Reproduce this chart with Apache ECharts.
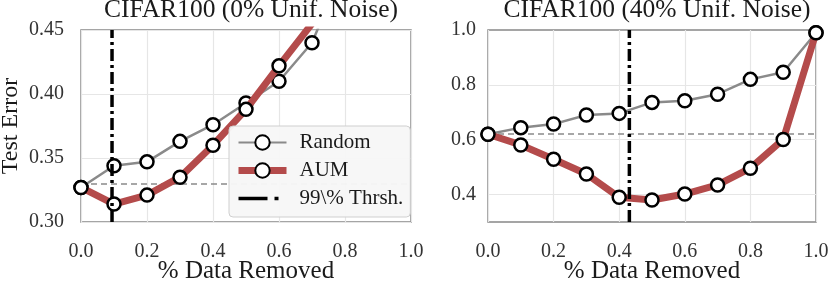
<!DOCTYPE html>
<html><head><meta charset="utf-8">
<script src="https://cdn.jsdelivr.net/npm/echarts@6/dist/echarts.min.js"></script>
<style>html,body{margin:0;padding:0;background:#fff}#c{width:830px;height:282px}</style>
</head><body><div id="c"></div>
<script>
const xVals = [0.0, 0.1, 0.2, 0.3, 0.4, 0.5, 0.6, 0.7, 0.8, 0.9, 1.0];
const titles = ['CIFAR100 (0% Unif. Noise)', 'CIFAR100 (40% Unif. Noise)'];
const seriesNames = ['Random', 'AUM', '99\\% Thrsh.'];
// Left: 0% noise
const leftRandom = [0.327, 0.344, 0.347, 0.363, 0.376, 0.393, 0.410, 0.440, 0.502];
const leftAUM = [0.327, 0.314, 0.321, 0.335, 0.360, 0.388, 0.422, 0.455];
const leftBaseline = 0.327;
const leftThresh = 0.094;
const leftYTicks = [0.30, 0.35, 0.40, 0.45];
// Right: 40% noise
const rightRandom = [0.620, 0.644, 0.657, 0.690, 0.696, 0.736, 0.742, 0.766, 0.820, 0.846, 0.990];
const rightAUM = [0.620, 0.581, 0.529, 0.475, 0.390, 0.380, 0.402, 0.435, 0.496, 0.601, 0.990];
const rightBaseline = 0.622;
const rightThresh = 0.431;
const rightYTicks = [0.4, 0.6, 0.8, 1.0];
const xTicks = [0.0, 0.2, 0.4, 0.6, 0.8, 1.0];

const FONT = '"Liberation Serif", "DejaVu Serif", serif';
const TXT = '#1a1a1a';
const GRAY = '#8a8a8a';
const RED = '#b44b4b';
const GRIDC = '#e6e6e6';

function pairs(ys) { return ys.map((y, i) => [xVals[i], y]); }

const chart = echarts.init(document.getElementById('c'), null, {renderer: 'canvas'});

function xAxis(gi) {
  return {
    gridIndex: gi, type: 'value', min: 0, max: 1, interval: 0.2,
    name: '% Data Removed', nameLocation: 'middle', nameGap: 37, nameMoveOverlap: false,
    nameTextStyle: {fontFamily: FONT, fontSize: 25, color: TXT},
    axisLine: {show: false}, axisTick: {show: false},
    axisLabel: {fontFamily: FONT, fontSize: 20, color: '#333', margin: 20,
      formatter: v => v.toFixed(1)},
    splitLine: {show: true, lineStyle: {color: GRIDC, width: 1.2}}
  };
}

const symbolStyle = {color: '#fff', borderColor: '#000', borderWidth: 2.5};

function dataSeries(name, gi, ys, color, width, z) {
  return {
    name: name, type: 'line', xAxisIndex: gi, yAxisIndex: gi,
    data: pairs(ys), symbol: 'circle', symbolSize: 13, showAllSymbol: true,
    lineStyle: {color: color, width: width}, itemStyle: symbolStyle,
    emphasis: {disabled: true}, clip: true, z: z
  };
}

function threshSeries(gi, x, ymin, ymax) {
  return {
    name: seriesNames[2], type: 'line', xAxisIndex: gi, yAxisIndex: gi,
    data: [[x, ymin], [x, ymax]], symbol: 'none',
    lineStyle: {color: '#000', width: 3.5, type: [12, 4, 3, 4]},
    itemStyle: {color: '#000'},
    emphasis: {disabled: true}, z: 5
  };
}

function refSeries(gi, baseline, gridYs) {
  const lines = [{yAxis: baseline, lineStyle: {color: GRAY, width: 1.5, type: [6, 4]}}];
  gridYs.forEach(v => lines.push({yAxis: v, lineStyle: {color: GRIDC, width: 1.2, type: 'solid'}}));
  return {
    type: 'line', xAxisIndex: gi, yAxisIndex: gi, data: [], silent: true, z: 1,
    markLine: {silent: true, symbol: ['none', 'none'], label: {show: false}, z: 1,
      animation: false, data: lines}
  };
}

const option = {
  animation: false,
  backgroundColor: '#fff',
  title: [
    {text: titles[0], left: 246, top: -8, textAlign: 'center',
      textStyle: {fontFamily: FONT, fontSize: 25.5, fontWeight: 'normal', color: TXT}},
    {text: titles[1], left: 652, top: -8, textAlign: 'center',
      textStyle: {fontFamily: FONT, fontSize: 25.5, fontWeight: 'normal', color: TXT}}
  ],
  grid: [
    {left: 81, top: 30, width: 330, height: 192, show: true, borderColor: '#888', borderWidth: 1.5,
      backgroundColor: '#fff', z: 0, containLabel: false, outerBoundsMode: 'none'},
    {left: 488, top: 30, width: 328, height: 192, show: true, borderColor: '#888', borderWidth: 1.5,
      backgroundColor: '#fff', z: 0, containLabel: false, outerBoundsMode: 'none'}
  ],
  xAxis: [xAxis(0), xAxis(1)],
  yAxis: [
    {gridIndex: 0, type: 'value', min: 0.30, max: 0.45, interval: 0.05,
      name: 'Test Error', nameLocation: 'middle', nameGap: 58, nameMoveOverlap: false,
      nameTextStyle: {fontFamily: FONT, fontSize: 24, color: TXT},
      axisLine: {show: false}, axisTick: {show: false},
      axisLabel: {fontFamily: FONT, fontSize: 20, color: '#333', margin: 17,
        formatter: v => v.toFixed(2)},
      splitLine: {show: true, lineStyle: {color: GRIDC, width: 1.2}}},
    {gridIndex: 1, type: 'value', min: 0.3, max: 1.0, interval: 0.1,
      axisLine: {show: false}, axisTick: {show: false},
      axisLabel: {fontFamily: FONT, fontSize: 20, color: '#333', margin: 12,
        formatter: v => {
          const hit = rightYTicks.find(t => Math.abs(t - v) < 1e-6);
          return hit === undefined ? '' : hit.toFixed(1);
        }},
      splitLine: {show: false}}
  ],
  legend: {
    data: [
      {name: seriesNames[0]},
      {name: seriesNames[1], lineStyle: {width: 7}},
      {name: seriesNames[2], itemStyle: {opacity: 0}, lineStyle: {width: 3.5, type: [29, 7, 4, 30]}}
    ],
    orient: 'vertical', left: 229, top: 126,
    itemWidth: 48, itemHeight: 18, itemGap: 7,
    padding: [6, 7, 8, 6],
    backgroundColor: 'rgba(247,247,247,0.96)', borderColor: '#cfcfcf', borderWidth: 1, borderRadius: 4,
    textStyle: {fontFamily: FONT, fontSize: 21, color: TXT, padding: [0, 0, 0, 8]},
    selectedMode: false, z: 20
  },
  series: [
    refSeries(0, leftBaseline, []),
    refSeries(1, rightBaseline, rightYTicks.slice(0, 3)),
    dataSeries(seriesNames[0], 0, leftRandom, GRAY, 2.5, 3),
    dataSeries(seriesNames[1], 0, leftAUM, RED, 7, 4),
    threshSeries(0, leftThresh, 0.30, 0.45),
    dataSeries(seriesNames[0], 1, rightRandom, GRAY, 2.5, 3),
    dataSeries(seriesNames[1], 1, rightAUM, RED, 7, 4),
    threshSeries(1, rightThresh, 0.3, 1.0)
  ]
};
chart.setOption(option);
</script>
</body></html>
